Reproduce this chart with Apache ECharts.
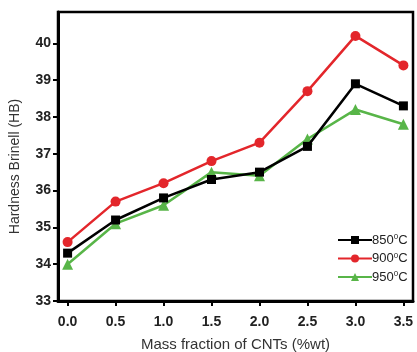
<!DOCTYPE html>
<html>
<head>
<meta charset="utf-8">
<script src="https://cdn.jsdelivr.net/npm/echarts@6/dist/echarts.min.js"></script>
<style>html,body{margin:0;padding:0;background:#fff}#c{width:417px;height:352px}</style>
</head>
<body>
<div id="c"></div>
<script>
const xValues = [0.0, 0.5, 1.0, 1.5, 2.0, 2.5, 3.0, 3.5];
const yTicks = [33, 34, 35, 36, 37, 38, 39, 40];
const seriesNames = ['850°C', '900°C', '950°C'];
const hb850 = [34.3, 35.2, 35.8, 36.3, 36.5, 37.2, 38.9, 38.3];
const hb900 = [34.6, 35.7, 36.2, 36.8, 37.3, 38.7, 40.2, 39.4];
const hb950 = [34.0, 35.1, 35.6, 36.5, 36.4, 37.4, 38.2, 37.8];
const xTitle = 'Mass fraction of CNTs (%wt)';
const yTitle = 'Hardness Brinell (HB)';

const pairs = arr => xValues.map((x, i) => [x, arr[i]]);
const font = 'Liberation Sans, Arial, sans-serif';
const colors = ['#000000', '#e3262b', '#58b548'];
const symbols = ['rect', 'circle', 'triangle'];
const sizes = [9, 10, 11];
const data = [hb850, hb900, hb950];

const chart = echarts.init(document.getElementById('c'));
chart.setOption({
  animation: false,
  backgroundColor: '#fff',
  grid: {left: 58, right: 4, top: 12, bottom: 51, containLabel: false, outerBoundsMode: 'none', show: true, borderColor: '#000', borderWidth: 2.5, backgroundColor: 'transparent'},
  legend: {
    orient: 'vertical', left: 332, top: 228,
    itemWidth: 34, itemHeight: 10, itemGap: 5,
    data: seriesNames,
    formatter: n => n.replace('°', '{sup|0}'),
    textStyle: {fontFamily: font, fontSize: 13, color: '#222', padding: [0,0,0,-5],
      rich: {sup: {fontSize: 8, verticalAlign: 'top', padding: [0,0,6,0], fontFamily: font, color: '#222'}}}
  },
  xAxis: {
    type: 'value', min: -0.1, max: 3.6,
    name: xTitle, nameLocation: 'middle', nameGap: 36,
    nameTextStyle: {fontFamily: font, fontSize: 15, color: '#333'},
    splitLine: {show: false},
    axisLine: {show: true, onZero: false, lineStyle: {color: '#000', width: 3}},
    axisTick: {show: true, length: 5, lineStyle: {width: 2, color: '#000'}, customValues: xValues},
    axisLabel: {customValues: xValues, margin: 14, fontFamily: font, fontSize: 14, fontWeight: 'bold', color: '#222', formatter: v => v.toFixed(1)}
  },
  yAxis: {
    type: 'value', min: 33, max: 40.85,
    name: yTitle, nameLocation: 'middle', nameGap: 36,
    nameTextStyle: {fontFamily: font, fontSize: 14, color: '#333', padding: [0,20,0,0]},
    splitLine: {show: false},
    axisLine: {show: true, onZero: false, lineStyle: {color: '#000', width: 3}},
    axisTick: {show: true, length: 5, lineStyle: {width: 2, color: '#000'}, customValues: yTicks},
    axisLabel: {customValues: yTicks, margin: 7, fontFamily: font, fontSize: 14, fontWeight: 'bold', color: '#222'}
  },
  series: seriesNames.map((n, i) => ({
    name: n, type: 'line', data: pairs(data[i]),
    symbol: symbols[i], symbolSize: sizes[i],
    z: i === 0 ? 4 : 2,
    lineStyle: {color: colors[i], width: 2.5},
    itemStyle: {color: colors[i]}
  }))
});
</script>
</body>
</html>
